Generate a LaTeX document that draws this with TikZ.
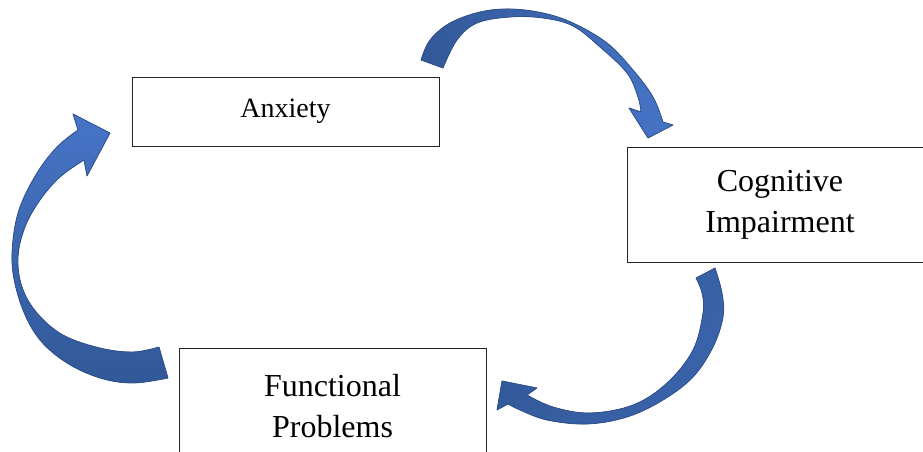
\documentclass[tikz,border=0pt]{standalone}
\usepackage{fontspec}
\setmainfont{Liberation Serif}
\definecolor{arrowlight}{RGB}{70,116,198}
\definecolor{arrowdark}{RGB}{50,88,152}
\definecolor{arrowline}{RGB}{47,82,143}
\begin{document}
\begin{tikzpicture}[x=1pt,y=-1pt,
  every node/.style={outer sep=0pt, inner sep=0pt},
  box/.style={draw=black!85, line width=0.9pt, fill=white, align=center},
  bigtext/.style={font=\fontsize{32}{41.5}\selectfont},
  arrowbody/.style={draw=arrowline, line width=0.8pt, line join=round}]
\useasboundingbox (0,0) rectangle (923,452);
\node[box, minimum width=307, minimum height=69, font=\fontsize{28}{34}\selectfont] (anxiety) at (285.5,111.5) {Anxiety};
\node[box, bigtext, minimum width=306, minimum height=115] (cognitive) at (780,205) {Cognitive\\Impairment};
\node[box, bigtext, minimum width=307, minimum height=124, text depth=8pt] (functional) at (332.5,410) {Functional\\Problems};
% anxiety -> cognitive impairment
\filldraw[arrowbody, left color=arrowdark, right color=arrowlight]
  plot[smooth, tension=0.6] coordinates {(421,60) (430,40) (450,23) (480,12) (510,9) (543,13) (573,23) (607,43) (633,70) (653,97) (663,122)}
  -- (673,125) -- (648,138) -- (629,108)
  --plot[smooth, tension=0.6] coordinates {(641,112) (638,97) (627,73) (600,47) (573,26) (543,18) (510,17) (477,23) (457,40) (443,68)}
  -- cycle;
% cognitive impairment -> functional problems
\filldraw[arrowbody, top color=arrowdark, bottom color=arrowdark!60!arrowlight, shading angle=60]
  plot[smooth, tension=0.6] coordinates {(715,268) (722,293) (723,317) (713,347) (693,377) (663,400) (627,417) (587,424) (547,420) (520,410) (508,404)}
  -- (497,410) -- (502,381) -- (537,388)
  --plot[smooth, tension=0.6] coordinates {(527,395) (553,407) (590,413) (633,405) (667,383) (693,350) (703,313) (702,293) (696,278)}
  -- cycle;
% functional problems -> anxiety
\filldraw[arrowbody, top color=arrowlight, bottom color=arrowdark]
  plot[smooth, tension=0.6] coordinates {(168,378) (133,383) (100,378) (67,363) (40,340) (23,310) (13,273) (13,240) (20,207) (37,173) (57,147) (78,130)}
  -- (73,114) -- (110,133) -- (87,176)
  --plot[smooth, tension=0.6] coordinates {(84,160) (60,177) (40,200) (25,227) (18,257) (22,287) (37,313) (63,335) (100,348) (133,352) (159,347)}
  -- cycle;
\end{tikzpicture}
\end{document}
